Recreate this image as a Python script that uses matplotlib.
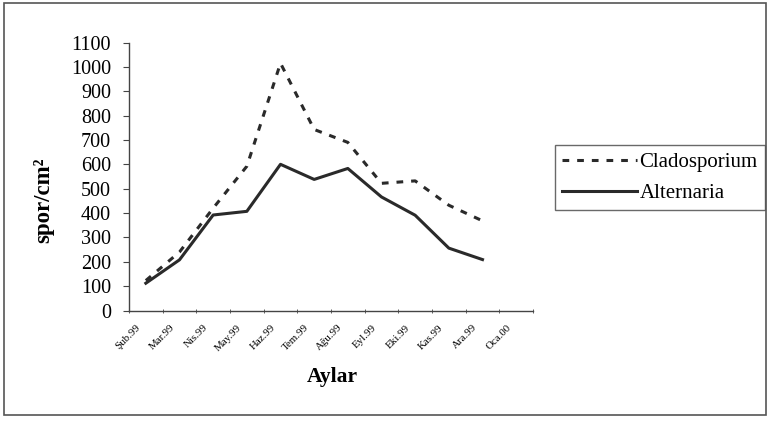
import matplotlib
matplotlib.use("Agg")
import matplotlib.pyplot as plt
from matplotlib.patches import Rectangle
import numpy as np

months = ["Şub.99", "Mar.99", "Nis.99", "May.99", "Haz.99", "Tem.99",
          "Ağu.99", "Eyl.99", "Eki.99", "Kas.99", "Ara.99", "Oca.00"]
cladosporium = [123, 240, 420, 592, 1015, 743, 690, 522, 532, 432, 368]
alternaria = [112, 208, 392, 407, 600, 538, 583, 466, 391, 256, 209]
yticks = list(range(0, 1101, 100))

plt.rcParams['font.family'] = ['Liberation Serif', 'DejaVu Serif']

fig = plt.figure(figsize=(7.67, 4.21), dpi=100)
fig.patch.set_facecolor('white')

# outer chart frame
fig.patches.append(Rectangle((4/767, 1-415/421), 762/767, 412/421,
                             transform=fig.transFigure, fill=False,
                             edgecolor='#555555', linewidth=1.2))

ax = fig.add_axes([129/767, 1-310.5/421, 404/767, 268/421])
x = np.arange(len(cladosporium))
ax.plot(x, cladosporium, color='#2a2a2a', linewidth=2.2, linestyle=(0, (2.2, 2.6)),
        label='Cladosporium')
ax.plot(x, alternaria, color='#2a2a2a', linewidth=2.2, label='Alternaria')

ax.set_xlim(-0.5, len(months) - 0.5)
ax.set_ylim(0, 1100)
ax.set_yticks(yticks)
ax.set_yticklabels([str(v) for v in yticks], fontsize=14.5)
ax.set_xticks(np.arange(len(months)))
ax.set_xticklabels(months, rotation=45, ha='right', va='top',
                   rotation_mode='anchor', fontsize=7.8)
ax.set_xticks(np.arange(len(months) + 1) - 0.5, minor=True)
ax.tick_params(axis='x', which='major', length=0, pad=9)
ax.tick_params(axis='x', which='minor', length=3, direction='inout', color='#444444')
ax.tick_params(axis='y', length=4, direction='out', color='#444444', pad=9)
for lab in ax.get_xticklabels():
    lab.set_transform(lab.get_transform() + matplotlib.transforms.ScaledTranslation(-10/100, 0, fig.dpi_scale_trans))

for s in ['top', 'right']:
    ax.spines[s].set_visible(False)
for s in ['left', 'bottom']:
    ax.spines[s].set_color('#444444')
    ax.spines[s].set_linewidth(1.0)

ax.set_ylabel('spor/cm²', fontsize=16.5, fontweight='bold')
ax.yaxis.set_label_coords((44 - 129) / 404, (310.5 - 200) / 268)
ax.yaxis.label.set_va('center')
fig.text(332/767, 1-377/421, 'Aylar', fontsize=15.5, fontweight='bold',
         ha='center', va='center')

leg = ax.legend(loc='upper left', bbox_to_anchor=(555/767, 1-145/421),
                bbox_transform=fig.transFigure, frameon=True, fancybox=False,
                edgecolor='#444444', fontsize=15, handlelength=3.6,
                handletextpad=0.1, borderpad=0.35, labelspacing=0.55,
                borderaxespad=0)
leg.get_frame().set_linewidth(1.0)

fig.savefig('out.png', dpi=100)
